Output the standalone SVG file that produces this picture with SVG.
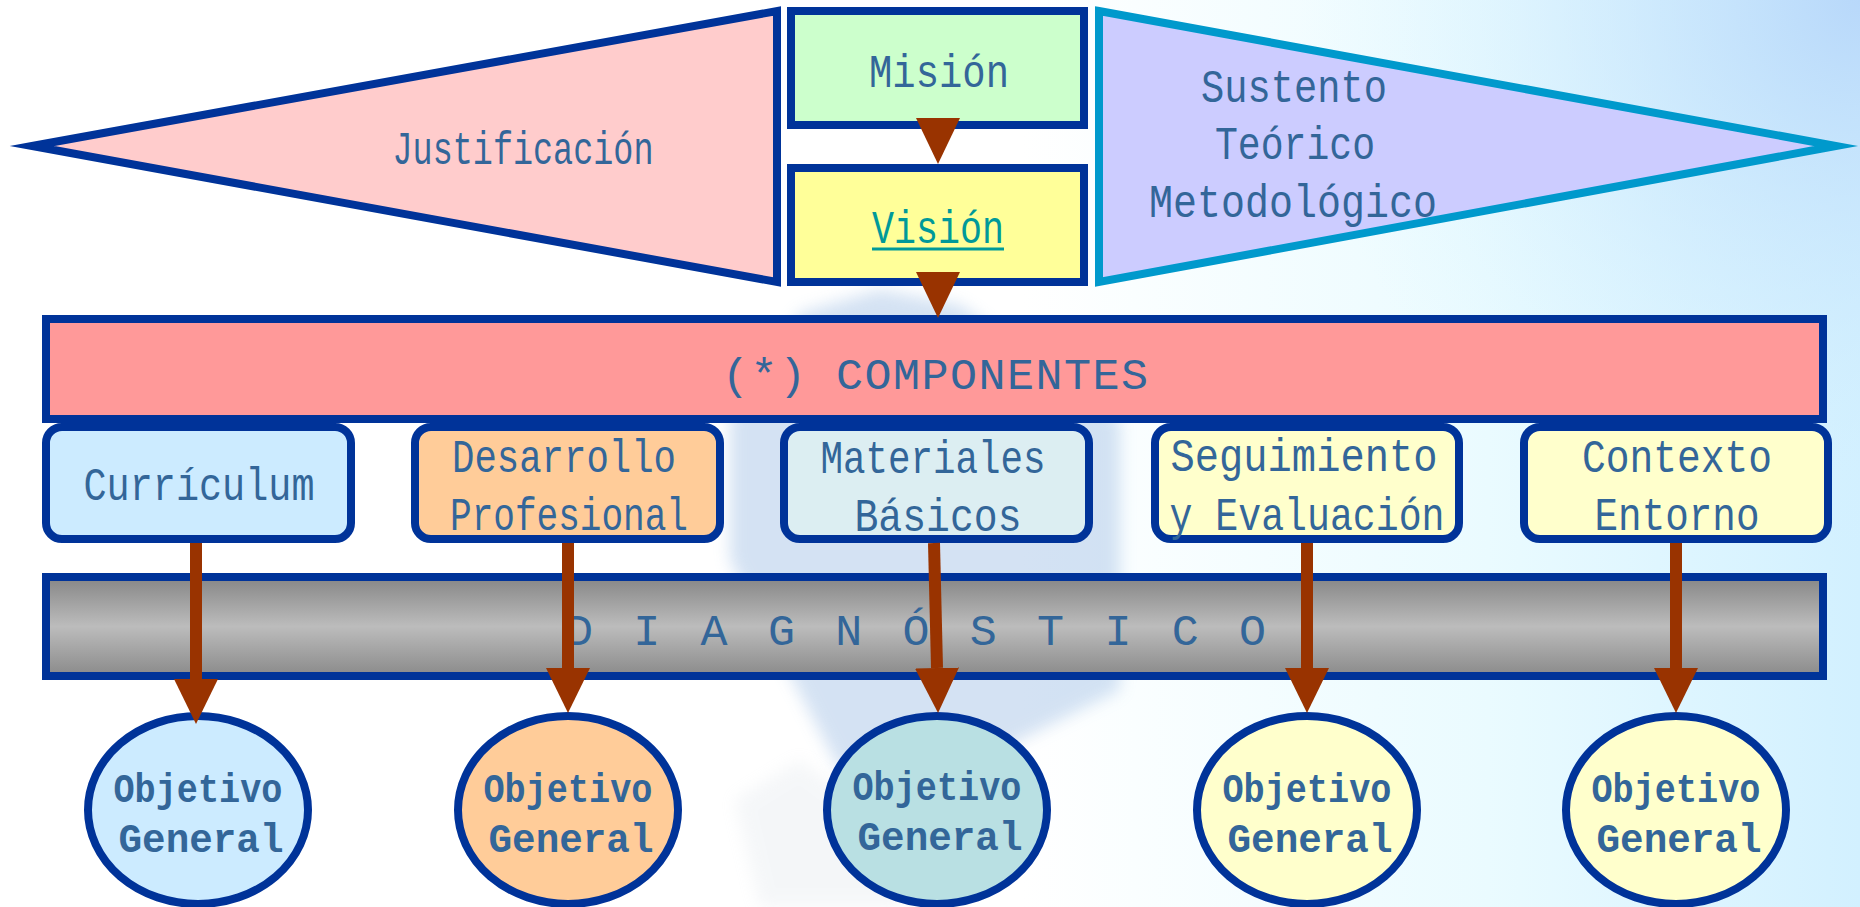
<svg xmlns="http://www.w3.org/2000/svg" width="1860" height="907" viewBox="0 0 1860 907">
<defs>
<linearGradient id="bgH" x1="0" y1="0" x2="1" y2="0">
<stop offset="0" stop-color="#FFFFFF"/>
<stop offset="0.55" stop-color="#FFFFFF"/>
<stop offset="0.8" stop-color="#EAFBFF"/>
<stop offset="1" stop-color="#D2F0FF"/>
</linearGradient>
<radialGradient id="bgTR" cx="1860" cy="0" r="560" gradientUnits="userSpaceOnUse">
<stop offset="0" stop-color="#B8D8FA" stop-opacity="1"/>
<stop offset="1" stop-color="#D8F4FF" stop-opacity="0"/>
</radialGradient>
<linearGradient id="grey" x1="0" y1="0" x2="0" y2="1">
<stop offset="0" stop-color="#868686"/>
<stop offset="0.5" stop-color="#BCBCBC"/>
<stop offset="1" stop-color="#8A8A8A"/>
</linearGradient>
<filter id="blur" x="-20%" y="-20%" width="140%" height="140%">
<feGaussianBlur stdDeviation="8"/>
</filter>
<marker id="head" viewBox="0 0 45 44" refX="0" refY="22" markerWidth="45" markerHeight="44" markerUnits="userSpaceOnUse" orient="auto">
<path d="M0,0 L45,22 L0,44 Z" fill="#993300"/>
</marker>
<style>
.nv{stroke:#003399;stroke-width:8;stroke-linejoin:miter;stroke-miterlimit:20}
.t{font-family:"Liberation Mono","Courier New",monospace;font-size:46px;fill:#336699;text-anchor:middle}
.b{font-family:"Liberation Mono","Courier New",monospace;font-size:41px;font-weight:bold;fill:#336699;text-anchor:middle}
.sp{font-family:"Liberation Mono","Courier New",monospace;font-size:45px;fill:#336699;text-anchor:start}
.ln{stroke:#993300;stroke-width:12;fill:none;marker-end:url(#head)}
.ah{fill:#993300}
</style>
</defs>

<g id="background">
<rect x="0" y="0" width="1860" height="907" fill="url(#bgH)"/>
<rect x="1100" y="0" width="760" height="600" fill="url(#bgTR)"/>
<g filter="url(#blur)" opacity="0.38">
<polygon points="800,313 880,290 960,305 1120,420 1120,690 960,770 840,770 730,560 730,420" fill="#8FB4E0"/>
</g>
<g filter="url(#blur)" opacity="0.18">
<polygon points="735,800 800,760 920,850 900,907 760,907" fill="#C8D2DC"/>
</g>
</g>

<g id="justificacion">
<polygon class="nv" points="32,146 777,11 777,282" fill="#FFCCCC"/>
<text class="t" x="523" y="164" textLength="261" lengthAdjust="spacingAndGlyphs">Justificación</text>
</g>

<g id="mision">
<rect class="nv" x="791" y="11" width="293" height="114" fill="#CCFFCC"/>
<text class="t" x="939" y="87" textLength="140" lengthAdjust="spacingAndGlyphs">Misión</text>
</g>

<g id="vision">
<rect class="nv" x="791" y="168" width="293" height="114" fill="#FFFF99"/>
<text class="t" x="938" y="243" textLength="132" lengthAdjust="spacingAndGlyphs" style="fill:#009999">Visión</text>
<line x1="872" y1="249" x2="1004" y2="249" stroke="#009999" stroke-width="3"/>
</g>

<g id="sustento">
<polygon points="1099,11 1836,146 1099,282" fill="#CCCCFF" stroke="#0099CC" stroke-width="8" stroke-linejoin="miter" stroke-miterlimit="20"/>
<text class="t" x="1294" y="102" textLength="186" lengthAdjust="spacingAndGlyphs">Sustento</text>
<text class="t" x="1295" y="159" textLength="160" lengthAdjust="spacingAndGlyphs">Teórico</text>
<text class="t" x="1293" y="217" textLength="288" lengthAdjust="spacingAndGlyphs">Metodológico</text>
</g>

<g id="componentes">
<rect class="nv" x="46" y="319" width="1777" height="100" fill="#FF9999"/>
<text class="sp" x="722" y="389" textLength="426" lengthAdjust="spacing">(*) COMPONENTES</text>
</g>

<g id="curriculum">
<rect class="nv" x="46" y="427" width="305" height="112" rx="16" fill="#CCEBFF"/>
<text class="t" x="199" y="500" textLength="231" lengthAdjust="spacingAndGlyphs">Currículum</text>
</g>

<g id="desarrollo">
<rect class="nv" x="415" y="427" width="305" height="112" rx="16" fill="#FFCC99"/>
<text class="t" x="564" y="472" textLength="224" lengthAdjust="spacingAndGlyphs">Desarrollo</text>
<text class="t" x="569" y="530" textLength="238" lengthAdjust="spacingAndGlyphs">Profesional</text>
</g>

<g id="materiales">
<rect class="nv" x="784" y="427" width="305" height="112" rx="16" fill="#DCEEF2"/>
<text class="t" x="933" y="473" textLength="225" lengthAdjust="spacingAndGlyphs">Materiales</text>
<text class="t" x="938" y="531" textLength="167" lengthAdjust="spacingAndGlyphs">Básicos</text>
</g>

<g id="seguimiento">
<rect class="nv" x="1155" y="427" width="304" height="112" rx="16" fill="#FFFFCC"/>
<text class="t" x="1304" y="471" textLength="267" lengthAdjust="spacingAndGlyphs">Seguimiento</text>
<text class="t" x="1307" y="530" textLength="275" lengthAdjust="spacingAndGlyphs">y Evaluación</text>
</g>

<g id="contexto">
<rect class="nv" x="1524" y="427" width="304" height="112" rx="16" fill="#FFFFCC"/>
<text class="t" x="1677" y="472" textLength="190" lengthAdjust="spacingAndGlyphs">Contexto</text>
<text class="t" x="1677" y="530" textLength="165" lengthAdjust="spacingAndGlyphs">Entorno</text>
</g>

<g id="diagnostico">
<rect class="nv" x="46" y="577" width="1777" height="99" fill="url(#grey)"/>
<text class="sp" x="566" y="645" textLength="700" lengthAdjust="spacing">D I A G N Ó S T I C O</text>
</g>

<g id="objetivo1">
<ellipse class="nv" cx="198" cy="810" rx="110" ry="94" fill="#CCEBFF"/>
<text class="b" x="198" y="802" textLength="169" lengthAdjust="spacingAndGlyphs">Objetivo</text>
<text class="b" x="201" y="852" textLength="165" lengthAdjust="spacingAndGlyphs">General</text>
</g>
<g id="objetivo2">
<ellipse class="nv" cx="568" cy="810" rx="110" ry="94" fill="#FFCC99"/>
<text class="b" x="568" y="802" textLength="169" lengthAdjust="spacingAndGlyphs">Objetivo</text>
<text class="b" x="571" y="852" textLength="165" lengthAdjust="spacingAndGlyphs">General</text>
</g>
<g id="objetivo3">
<ellipse class="nv" cx="937" cy="810" rx="110" ry="94" fill="#B9E0E3"/>
<text class="b" x="937" y="800" textLength="169" lengthAdjust="spacingAndGlyphs">Objetivo</text>
<text class="b" x="940" y="850" textLength="165" lengthAdjust="spacingAndGlyphs">General</text>
</g>
<g id="objetivo4">
<ellipse class="nv" cx="1307" cy="810" rx="110" ry="94" fill="#FFFFCC"/>
<text class="b" x="1307" y="802" textLength="169" lengthAdjust="spacingAndGlyphs">Objetivo</text>
<text class="b" x="1310" y="852" textLength="165" lengthAdjust="spacingAndGlyphs">General</text>
</g>
<g id="objetivo5">
<ellipse class="nv" cx="1676" cy="810" rx="110" ry="94" fill="#FFFFCC"/>
<text class="b" x="1676" y="802" textLength="169" lengthAdjust="spacingAndGlyphs">Objetivo</text>
<text class="b" x="1679" y="852" textLength="165" lengthAdjust="spacingAndGlyphs">General</text>
</g>

<g id="connectors">
<polygon class="ah" points="916,118 960,118 938,164"/>
<polygon class="ah" points="916,272 960,272 938,318"/>
<line class="ln" x1="196" y1="543" x2="196" y2="679"/>
<line class="ln" x1="568" y1="543" x2="568" y2="668"/>
<line class="ln" x1="934" y1="543" x2="937" y2="668"/>
<line class="ln" x1="1307" y1="543" x2="1307" y2="668"/>
<line class="ln" x1="1676" y1="543" x2="1676" y2="668"/>
</g>
</svg>
